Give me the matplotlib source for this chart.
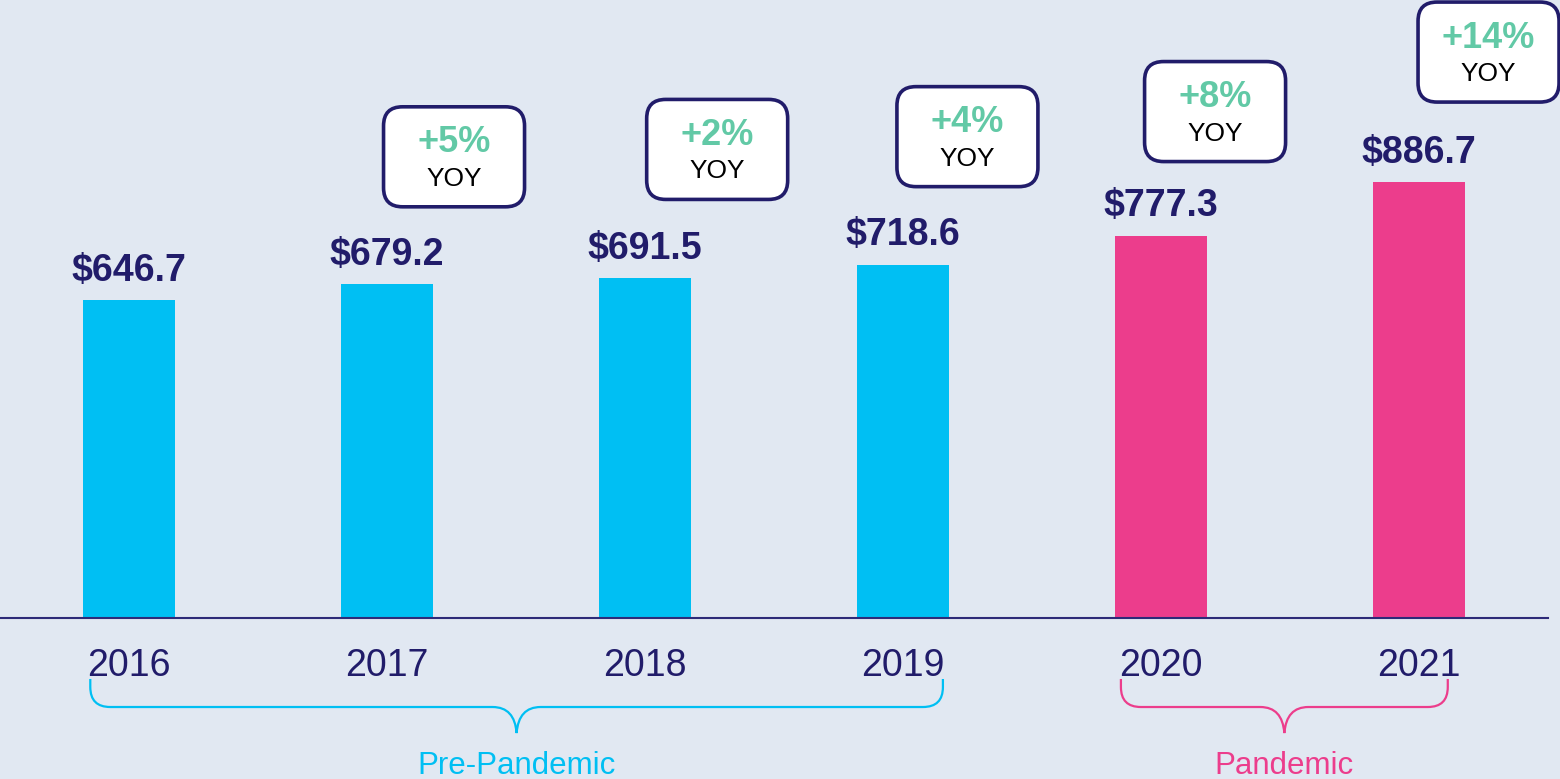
import matplotlib
matplotlib.use("Agg")
import matplotlib.pyplot as plt
from matplotlib.patches import FancyBboxPatch, PathPatch
from matplotlib.path import Path
from matplotlib.transforms import ScaledTranslation

plt.rcParams['font.family'] = ['Liberation Sans', 'DejaVu Sans']

# data
years = ['2016', '2017', '2018', '2019', '2020', '2021']
values = [646.7, 679.2, 691.5, 718.6, 777.3, 886.7]
period = ['pre', 'pre', 'pre', 'pre', 'pandemic', 'pandemic']
yoy = ['', '+5%', '+2%', '+4%', '+8%', '+14%']
groups = ['Pre-Pandemic', 'Pandemic']
group_span = [(0, 3), (4, 5)]

# layout for the YOY boxes (bar index offset, value-axis height of box centre)
box_dx = [0, 0.26, 0.28, 0.25, 0.21, 0.27]
box_y = [0, 938, 953, 979, 1030, 1151]
brace_pad = [(0.15, 0.155), (0.155, 0.112)]

bg = '#E1E8F2'
navy = '#211C6A'
colors = {'pre': '#00BFF3', 'pandemic': '#EC3D8C'}
green = '#62C9A6'

fig = plt.figure(figsize=(15.6, 7.79), dpi=100, facecolor=bg)
ax = fig.add_axes([0, 0, 1, 1])
ax.set_facecolor(bg)
ax.set_xlim(-0.5, 5.547)
ax.set_ylim(-327.4, 1256.9)
ax.axis('off')

x = list(range(len(years)))
ax.bar(x, values, width=0.357, color=[colors[p] for p in period], zorder=2)
ax.axhline(0, xmin=0, xmax=0.992, color='#2D2A78', lw=1.5, zorder=3)

for i, v in enumerate(values):
    ax.annotate(f'${v:.1f}', (i, v), xytext=(0, 14), textcoords='offset points',
                ha='center', va='baseline', fontsize=27, fontweight='bold', color=navy)
    ax.annotate(years[i], (i, 0), xytext=(0, -42), textcoords='offset points',
                ha='center', va='baseline', fontsize=27, color=navy)

# YOY boxes
for i, lab in enumerate(yoy):
    if not lab:
        continue
    trans = fig.dpi_scale_trans + ScaledTranslation(i + box_dx[i], box_y[i], ax.transData)
    box = FancyBboxPatch((-0.705, -0.5), 1.41, 1.0,
                         boxstyle='round,pad=0,rounding_size=0.19',
                         fc='white', ec=navy, lw=2.6, transform=trans, zorder=4,
                         clip_on=False)
    ax.add_patch(box)
    ax.text(0, 0.14, lab, transform=trans, ha='center', va='center',
            fontsize=26, fontweight='bold', color=green, zorder=5)
    ax.text(0, -0.22, 'YOY', transform=trans, ha='center', va='center',
            fontsize=19, color='black', zorder=5)

# braces under the year labels
px = 1 / 258.0          # one pixel in x data units
py = 1 / 0.4917         # one pixel in y data units
ytop, ymid, ytip = -124, -181, -234
for g, (a, b), (pl, pr), key in zip(groups, group_span, brace_pad, ['pre', 'pandemic']):
    x0, x1 = a - pl, b + pr
    xc = (x0 + x1) / 2
    r = 20
    verts = [(x0, ytop), (x0, ymid + r * py), (x0, ymid), (x0 + r * px, ymid),
             (xc - 24 * px, ymid), (xc - 2 * px, ymid), (xc, ytip),
             (xc + 2 * px, ymid), (xc + 24 * px, ymid),
             (x1 - r * px, ymid), (x1, ymid), (x1, ymid + r * py), (x1, ytop)]
    codes = [Path.MOVETO, Path.LINETO, Path.CURVE3, Path.CURVE3,
             Path.LINETO, Path.CURVE3, Path.CURVE3,
             Path.CURVE3, Path.CURVE3,
             Path.LINETO, Path.CURVE3, Path.CURVE3, Path.LINETO]
    ax.add_patch(PathPatch(Path(verts, codes), fc='none', ec=colors[key], lw=1.6,
                           clip_on=False))
    ax.annotate(g, (xc, 0), xytext=(0, -112), textcoords='offset points',
                ha='center', va='baseline', fontsize=22.5, color=colors[key])

fig.savefig('out.png', dpi=100, facecolor=bg)
